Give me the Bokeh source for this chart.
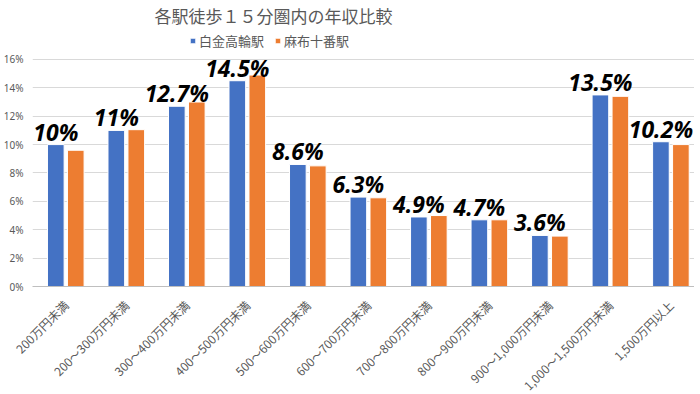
import numpy as np
from bokeh.plotting import figure
from bokeh.models import (ColumnDataSource, Range1d, FixedTicker, Legend, LegendItem,
                          CustomJSTickFormatter)
from bokeh.core.properties import value
from bokeh.embed import file_html
from bokeh.resources import INLINE

categories = ["200万円未満", "200～300万円未満", "300～400万円未満", "400～500万円未満",
              "500～600万円未満", "600～700万円未満", "700～800万円未満", "800～900万円未満",
              "900～1,000万円未満", "1,000～1,500万円未満", "1,500万円以上"]
shirokane = [10.0, 11.0, 12.7, 14.5, 8.6, 6.3, 4.9, 4.7, 3.6, 13.5, 10.2]
azabu = [9.6, 11.05, 13.0, 14.9, 8.5, 6.25, 5.0, 4.7, 3.55, 13.4, 10.0]
labels = ["10%", "11%", "12.7%", "14.5%", "8.6%", "6.3%", "4.9%", "4.7%", "3.6%", "13.5%", "10.2%"]
y_ticks = [0, 2, 4, 6, 8, 10, 12, 14, 16]
series_names = ["白金高輪駅", "麻布十番駅"]

BLUE = "#4472C4"
ORANGE = "#ED7D31"
GRAY = "#595959"
JP = "Noto Sans CJK JP"

xs = np.arange(len(categories))
src = ColumnDataSource(dict(xb=xs - 0.165, xo=xs + 0.165, b=shirokane, o=azabu, lab=labels))

p = figure(frame_width=662, frame_height=258, output_backend="svg", toolbar_location=None,
           x_range=Range1d(-0.55, 10.39), y_range=Range1d(0, 18.18),
           min_border_left=22, min_border_right=0, min_border_top=0, min_border_bottom=0)
p.title.text = "各駅徒歩１５分圏内の年収比較"
p.title.text_font = JP
p.title.text_font_size = "17px"
p.title.text_font_style = "normal"
p.title.text_color = GRAY
p.title.align = "left"
p.title.offset = 122
p.title.standoff = 1

rb = p.vbar(x="xb", top="b", width=0.275, source=src, fill_color=BLUE, line_color="white", line_width=1)
ro = p.vbar(x="xo", top="o", width=0.275, source=src, fill_color=ORANGE, line_color="white", line_width=1)

p.text(x="xb", y="b", text="lab", source=src, text_font=value("Noto Sans"),
       text_font_size="23px", text_font_style="bold italic", text_color="black",
       text_align="center", text_baseline="bottom", y_offset=3)

legend = Legend(items=[LegendItem(label=series_names[0], renderers=[rb]),
                       LegendItem(label=series_names[1], renderers=[ro])],
                orientation="horizontal", location=(157, 236))
legend.label_text_font = JP
legend.label_text_font_size = "13px"
legend.label_text_color = GRAY
legend.glyph_width = 7
legend.glyph_height = 7
legend.label_standoff = 3
legend.spacing = 10
legend.padding = 0
legend.margin = 0
legend.border_line_color = None
legend.background_fill_alpha = 0
p.add_layout(legend)

p.xaxis.ticker = FixedTicker(ticks=list(xs))
p.xaxis.major_label_overrides = {int(i): c for i, c in zip(xs, categories)}
p.xaxis.major_label_orientation = np.pi / 4
p.xaxis.major_label_text_font = JP
p.xaxis.major_label_text_font_size = "12px"
p.xaxis.major_label_text_color = GRAY
p.xaxis.major_label_standoff = 10
p.xaxis.axis_line_color = "#BFBFBF"
p.xaxis.major_tick_line_color = None
p.xaxis.minor_tick_line_color = None

p.yaxis.ticker = FixedTicker(ticks=y_ticks)
p.yaxis.formatter = CustomJSTickFormatter(code="return tick.toFixed(0) + '%';")
p.yaxis.major_label_text_font = "Noto Sans"
p.yaxis.major_label_text_font_size = "10px"
p.yaxis.major_label_text_color = GRAY
p.yaxis.axis_line_color = None
p.yaxis.major_tick_line_color = None
p.yaxis.minor_tick_line_color = None
p.yaxis.major_label_standoff = 3

p.xgrid.grid_line_color = None
p.ygrid.grid_line_color = "#D9D9D9"
p.outline_line_color = None

open("out.html", "w").write(file_html(p, INLINE))
